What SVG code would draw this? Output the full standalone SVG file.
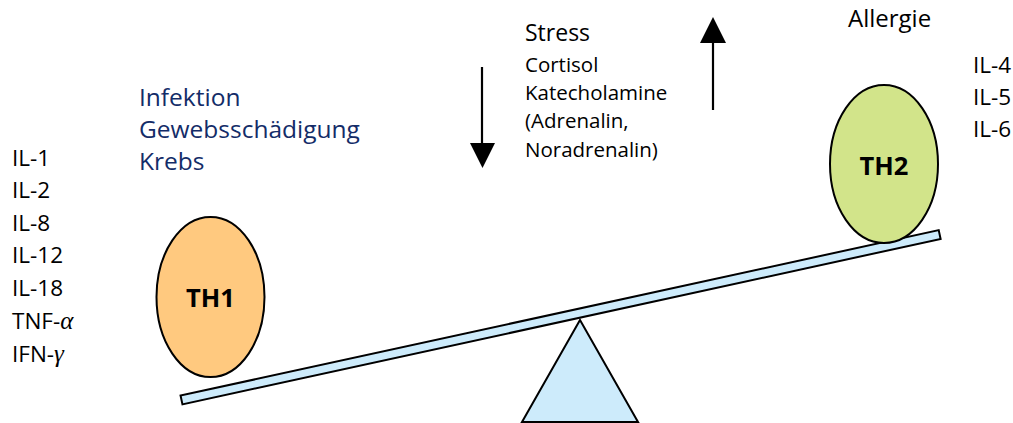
<svg xmlns="http://www.w3.org/2000/svg" width="1013" height="423" viewBox="0 0 1013 423">
  <defs>
    <style>
      text { font-family: "Open Sans", "Liberation Sans", sans-serif; fill: #000; }
      .list text { font-size: 22.5px; }
      .blue text { font-size: 24.5px; fill: #132C68; }
      .list tspan.greek { font-family: "Liberation Serif", "DejaVu Serif", serif; font-style: italic; font-size: 25px; }
      .stress { font-size: 23px; }
      .sub { font-size: 20.5px; }
      .label { font-size: 25.5px; font-weight: bold; text-anchor: middle; }
      .shape { stroke: #000; stroke-width: 2; }
      .arrow { stroke: #000; stroke-width: 2.2; fill: none; }
    </style>
  </defs>

  <g id="balance">
    <rect class="shape" x="0" y="-4.5" width="776" height="9" fill="#CDEBFB" transform="translate(181.5 400) rotate(-12.31)"/>
    <polygon id="fulcrum" class="shape" points="580,320 522,422 638,422" fill="#CDEBFB"/>
  </g>

  <g id="th1">
    <ellipse class="shape" cx="210.5" cy="297" rx="54" ry="80" fill="#FFC97F"/>
    <text class="label" x="210.5" y="307">TH1</text>
  </g>

  <g id="th2">
    <ellipse class="shape" cx="884" cy="164" rx="54" ry="79" fill="#D2E48A"/>
    <text class="label" x="884" y="175">TH2</text>
  </g>

  <g id="th1-cytokines" class="list">
    <text x="12" y="166">IL-1</text>
    <text x="12" y="198">IL-2</text>
    <text x="12" y="231">IL-8</text>
    <text x="12" y="263">IL-12</text>
    <text x="12" y="296">IL-18</text>
    <text x="12" y="329">TNF-<tspan class="greek">α</tspan></text>
    <text x="12" y="362">IFN-<tspan class="greek">γ</tspan></text>
  </g>

  <g id="th1-triggers" class="blue">
    <text x="139" y="106">Infektion</text>
    <text x="139" y="138">Gewebsschädigung</text>
    <text x="139" y="170">Krebs</text>
  </g>

  <g id="stress">
    <text class="stress" x="525" y="41">Stress</text>
    <text class="sub" x="525" y="72">Cortisol</text>
    <text class="sub" x="525" y="100">Katecholamine</text>
    <text class="sub" x="525" y="128">(Adrenalin,</text>
    <text class="sub" x="525" y="157">Noradrenalin)</text>
  </g>

  <g id="th2-triggers">
    <text x="848" y="27" style="font-size:24px">Allergie</text>
  </g>

  <g id="th2-cytokines" class="list">
    <text x="973" y="73">IL-4</text>
    <text x="973" y="105">IL-5</text>
    <text x="973" y="137">IL-6</text>
  </g>

  <g id="connectors">
    <line class="arrow" x1="482" y1="67" x2="482" y2="145"/>
    <polygon points="470,143 495,143 482.5,168" fill="#000"/>
    <line class="arrow" x1="713" y1="110" x2="713" y2="40"/>
    <polygon points="700,43 726,43 713,17" fill="#000"/>
  </g>
</svg>
